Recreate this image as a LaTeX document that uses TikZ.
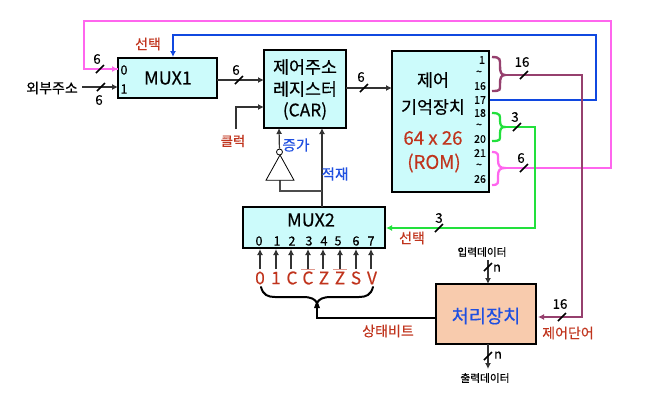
\documentclass[tikz,border=0pt]{standalone}
\usepackage{fontspec}
\setmainfont[FakeBold=0.35]{Noto Sans CJK KR}
\usetikzlibrary{arrows.meta,shapes.geometric}
\definecolor{boxc}{HTML}{CCFBFB}
\definecolor{proc}{HTML}{F8CBAD}
\definecolor{redt}{HTML}{C0341D}
\definecolor{bluet}{HTML}{1F4FE0}
\definecolor{pinkl}{HTML}{FF66EE}
\definecolor{greenl}{HTML}{22E03C}
\definecolor{purpl}{HTML}{96406E}
\definecolor{bluel}{HTML}{1048E0}
\tikzset{
 x=0.75pt,y=-0.75pt,
 box/.style={draw=black,line width=1.5pt,fill=boxc,anchor=north west,inner sep=0,outer sep=0},
 txt/.style={inner sep=0,font=\fontsize{#1}{#1}\selectfont},
 txt/.default=10,
 redtxt/.style={txt=#1,text=redt},
 bluetxt/.style={txt=#1,text=bluet},
 wire/.style={draw=black!80,line width=0.9pt},
 arr/.style={-{Latex[length=4.5pt,width=4.5pt]}},
 tick/.style={draw=black,line width=1.1pt},
 pinkw/.style={draw=pinkl,line width=1.7pt},
 bluew/.style={draw=bluel,line width=1.8pt},
 greenw/.style={draw=greenl,line width=1.7pt},
 purpw/.style={draw=purpl,line width=1.8pt},
}
\newcommand{\slashtick}[2]{\draw[tick] (#1-4,#2+4) -- (#1+4,#2-4);}
\begin{document}
\begin{tikzpicture}
\useasboundingbox (0,0) rectangle (650,405);
% boxes
\node[box,minimum width=74.25pt,minimum height=30pt] (mux1) at (118,58) {};
\node[box,minimum width=61.5pt,minimum height=58.5pt] (car) at (264,50) {};
\node[box,minimum width=72.75pt,minimum height=105.75pt] (rom) at (392,51) {};
\node[box,minimum width=106.5pt,minimum height=30.75pt] (mux2) at (243,207) {};
\node[box,fill=proc,minimum width=75pt,minimum height=45pt] (pu) at (436,284) {};
% coordinates
\coordinate (pinkbr) at (505,168);
\coordinate (p1) at (611,168); \coordinate (p2) at (611,21); \coordinate (p3) at (84,21); \coordinate (p4) at (84,69);
\coordinate (mux1p0) at (118,69);
\coordinate (mux1p1) at (118,87);
\coordinate (ext) at (82,87);
\coordinate (b0) at (490,99.7); \coordinate (b1) at (596,99.7); \coordinate (b2) at (596,35); \coordinate (b3) at (173,35); \coordinate (b4) at (173,57);
\coordinate (purpbr) at (505,75);
\coordinate (c1) at (582,75); \coordinate (c2) at (582,317); \coordinate (c3) at (538,317);
\coordinate (greenbr) at (505,127);
\coordinate (g1) at (535,127); \coordinate (g2) at (535,228); \coordinate (g3) at (386,228);
\coordinate (m1o) at (217,80); \coordinate (cari1) at (264,80);
\coordinate (caro) at (346,88); \coordinate (romi) at (392,88);
\coordinate (clk1) at (236,129); \coordinate (clk2) at (236,107); \coordinate (clk3) at (264,107);
\coordinate (load0) at (322,207); \coordinate (load1) at (322,128);
\coordinate (incb) at (280,178); \coordinate (inc1) at (280,191); \coordinate (inc2) at (322,191);
\coordinate (inco) at (279,128);
\coordinate (st1) at (317,318); \coordinate (st0) at (317,303); \coordinate (puw) at (436,318);
\coordinate (din) at (488,260); \coordinate (dint) at (488,284);
\coordinate (doutb) at (488,344); \coordinate (dout) at (488,369);
% coloured wires
\draw[pinkw] (pinkbr) -- (p1) -- (p2) -- (p3) -- (p4) -- (mux1p0);
\draw[pinkl,-{Latex[length=4.5pt,width=4.5pt]},line width=1.2pt] (112,69) -- (mux1p0);
\draw[bluew,-{Latex[length=4.5pt,width=4.5pt]}] (b0) -- (b1) -- (b2) -- (b3) -- (b4);
\draw[purpw,-{Latex[length=4.5pt,width=4.5pt]}] (purpbr) -- (c1) -- (c2) -- (c3);
\draw[greenw,-{Latex[length=4.5pt,width=4.5pt]}] (greenbr) -- (g1) -- (g2) -- (g3);
% braces
\draw[purpw] (492,57) .. controls (501,57) and (500,60) .. (500,66) .. controls (500,72) and (501,75) .. (505,75) .. controls (501,75) and (500,78) .. (500,84) .. controls (500,90) and (501,91) .. (492,91);
\draw[greenw] (492,113) .. controls (501,113) and (500,116) .. (500,120) .. controls (500,125) and (501,127) .. (505,127) .. controls (501,127) and (500,129) .. (500,134) .. controls (500,140) and (501,141) .. (492,141);
\draw[pinkw] (492,152) .. controls (499,152) and (498,155) .. (498,160) .. controls (498,166) and (500,168) .. (505,168) .. controls (500,168) and (498,170) .. (498,176) .. controls (498,183) and (499,185) .. (492,185);
% black wires
\draw[wire,arr] (ext) -- (mux1p1);
\draw[wire,arr] (m1o) -- (cari1);
\draw[wire,arr] (caro) -- (romi);
\draw[wire,arr] (clk1) -- (clk2) -- (clk3);
\draw[wire,arr] (load0) -- (load1);
\draw[wire,black!70] (incb) -- (inc1) -- (inc2);
% inverter
\node[draw=black,line width=0.6pt,fill=white,isosceles triangle,isosceles triangle apex angle=58,shape border rotate=90,minimum height=17pt,minimum width=21pt,inner sep=0,anchor=north,outer sep=0] (inv) at (280,155) {};
\node[draw=black,line width=0.6pt,fill=white,circle,minimum size=4.5pt,inner sep=0] (bub) at (279.5,152) {};
\draw[wire,arr] (bub) -- (inco);
% data
\draw[wire,arr] (din) -- (dint);
\draw[wire,arr] (doutb) -- (dout);
% status
\draw[draw=black,line width=1.5pt] (puw) -- (st1) -- (st0);
\draw[draw=black,line width=1.5pt,line cap=round] (261,287) .. controls (263,295) and (268,297) .. (275,297) -- (303,297) .. controls (311,297) and (315,299) .. (317,303) .. controls (319,299) and (323,297) .. (331,297) -- (359,297) .. controls (366,297) and (371,295) .. (373,287);
\fill[black] (317,300) -- (314,308) -- (320,308) -- cycle;
% ticks
\slashtick{100}{69}\slashtick{101}{87}\slashtick{239}{80}\slashtick{364}{88}
\slashtick{524}{75}\slashtick{517}{127}\slashtick{524}{168}\slashtick{439}{228}
\slashtick{488}{267}\slashtick{488}{356}\slashtick{562}{317}
% texts
\node[redtxt=10.5] (tsel1) at (148,44) {선택};
\node[txt=10.5] (text) at (52,88) {외부주소};
\node[txt=13.5] (tm1) at (168,78) {MUX1};
\node[txt=9.5] (tm10) at (124,70) {0};
\node[txt=9.5] (tm11) at (124,89) {1};
\node[txt=10] (t6a) at (97,59) {6};
\node[txt=10] (t6b) at (99,100) {6};
\node[txt=10] (t6c) at (236,70) {6};
\node[txt=10] (t6d) at (361,77) {6};
\node[txt=13] (tc1) at (305,67) {제어주소};
\node[txt=13] (tc2) at (305,89) {레지스터};
\node[txt=13] (tc3) at (305,111) {(CAR)};
\node[redtxt=10] (tclk) at (233,141) {클럭};
\node[bluetxt=11] (tinc) at (296,145) {증가};
\node[bluetxt=11] (tload) at (335,174) {적재};
\node[txt=13] (tr1) at (433,80) {제어};
\node[txt=13] (tr2) at (433,107) {기억장치};
\node[redtxt=14] (tr3) at (433,138) {64 x 26};
\node[redtxt=14] (tr4) at (434,163) {(ROM)};
\node[txt=8] (pa) at (482,60) {1};
\node[txt=8] (pb) at (479,73) {\textasciitilde};
\node[txt=8] (pc) at (480,86) {16};
\node[txt=8] (pd) at (480,100) {17};
\node[txt=8] (pe) at (480,113) {18};
\node[txt=8] (pf) at (479,126) {\textasciitilde};
\node[txt=8] (pg) at (480,139) {20};
\node[txt=8] (ph) at (480,153) {21};
\node[txt=8] (pi) at (479,166) {\textasciitilde};
\node[txt=8] (pj) at (480,179) {26};
\node[txt=10] (t16a) at (522,62) {16};
\node[txt=10] (t3a) at (515,117) {3};
\node[txt=10] (t6e) at (521,158) {6};
\node[txt=13.5] (tm2) at (311,220) {MUX2};
\foreach \i/\xx in {0/259,1/277,2/292,3/309,4/324,5/338,6/356,7/371}{
  \node[txt=9.5] (n\i) at (\xx,241) {\i};
}
\node[redtxt=13] (l0) at (260,278) {0};
\node[redtxt=13] (l1) at (276,278) {1};
\node[redtxt=13] (l2) at (292,278) {C};
\node[redtxt=13] (l3) at (308,278) {C};
\node[redtxt=13] (l4) at (324,278) {Z};
\node[redtxt=13] (l5) at (340,278) {Z};
\node[redtxt=13] (l6) at (356,278) {S};
\node[redtxt=13] (l7) at (372,278) {V};
\coordinate (mi0) at (260,249); \coordinate (mi1) at (276,249); \coordinate (mi2) at (291,249); \coordinate (mi3) at (308,249);
\coordinate (mi4) at (323,249); \coordinate (mi5) at (340,249); \coordinate (mi6) at (356,249); \coordinate (mi7) at (371,249);
\foreach \i in {0,1,2,3,4,5,6,7}{
  \draw[wire,arr] (mi\i |- 0,269) -- (mi\i);
}
\draw[draw=redt!50,line width=0.7pt] (301,269) -- (315,269);
\draw[draw=redt!50,line width=0.7pt] (333,269) -- (347,269);
\node[redtxt=10.5] (tst) at (388,331) {상태비트};
\node[redtxt=10.5] (tsel2) at (412,238) {선택};
\node[txt=10] (t3b) at (439,218) {3};
\node[txt=8] (tin) at (482,252) {입력데이터};
\node[txt=9.5] (tn1) at (497,268) {n};
\node[bluetxt=14] (tpu) at (486,316) {처리장치};
\node[txt=10] (t16b) at (560,304) {16};
\node[redtxt=10.5] (tcw) at (568,333) {제어단어};
\node[txt=9.5] (tn2) at (498,355) {n};
\node[txt=8] (tout) at (485,378) {출력데이터};
\end{tikzpicture}
\end{document}
